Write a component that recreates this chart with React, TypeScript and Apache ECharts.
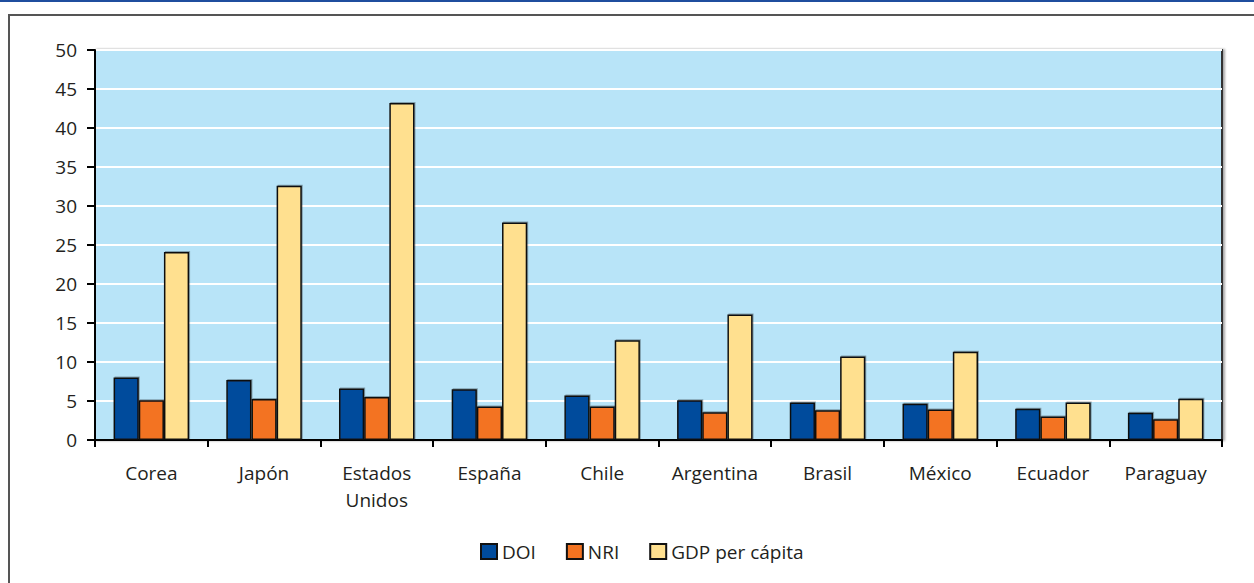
import React, { useEffect, useRef } from "react";
import * as echarts from "echarts";

const categories = ["Corea", "Japón", "Estados\nUnidos", "España", "Chile", "Argentina", "Brasil", "México", "Ecuador", "Paraguay"];
const doi = [8.0, 7.7, 6.6, 6.5, 5.7, 5.1, 4.8, 4.65, 4.0, 3.5];
const nri = [5.1, 5.25, 5.5, 4.3, 4.3, 3.55, 3.8, 3.9, 3.0, 2.65];
const gdp = [24.1, 32.6, 43.2, 27.9, 12.8, 16.1, 10.7, 11.3, 4.8, 5.3];
const seriesNames = ["DOI", "NRI", "GDP per cápita"];
const seriesColors = ["#004b9c", "#f37321", "#ffe08f"];

const FONT = "'Open Sans', 'Noto Sans', sans-serif";

export default function App() {
  const ref = useRef<HTMLDivElement>(null);
  useEffect(() => {
    if (!ref.current) return;
    const chart = echarts.init(ref.current, null, { renderer: "svg" });
    const data = [doi, nri, gdp];
    chart.setOption({
      animation: false,
      backgroundColor: "#ffffff",
      textStyle: { fontFamily: FONT },
      graphic: [
        { type: "rect", shape: { x: 0, y: 0, width: 1254, height: 2 }, style: { fill: "#1f4e9e" }, z: 10 },
        { type: "rect", shape: { x: 9, y: 15, width: 1300, height: 620 }, style: { fill: "none", stroke: "#555555", lineWidth: 2 }, z: -1 },
      ],
      grid: {
        left: 95,
        top: 50,
        right: 32,
        bottom: 143,
        show: true,
        backgroundColor: "#b8e4f8",
        borderColor: "#333333",
        borderWidth: 2,
        shadowColor: "rgba(0,0,0,0.35)",
        shadowOffsetX: 2,
        shadowOffsetY: 0,
        shadowBlur: 2,
      },
      legend: {
        data: seriesNames,
        left: 475,
        top: 537,
        itemWidth: 16,
        itemHeight: 15,
        itemGap: 30,
        icon: "rect",
        textStyle: { fontFamily: FONT, fontSize: 19, color: "#231f20", padding: [0, 0, 0, 0] },
      },
      xAxis: {
        type: "category",
        data: categories,
        axisLine: { show: true, lineStyle: { color: "#000000", width: 2 } },
        axisTick: { show: true, alignWithLabel: false, length: 7, lineStyle: { color: "#000000", width: 2 } },
        axisLabel: { fontFamily: FONT, fontSize: 19, color: "#231f20", margin: 19, lineHeight: 27, interval: 0 },
        splitLine: { show: false },
      },
      yAxis: {
        type: "value",
        min: 0,
        max: 50,
        interval: 5,
        axisLine: { show: true, lineStyle: { color: "#000000", width: 2 } },
        axisTick: { show: true, length: 8, lineStyle: { color: "#000000", width: 2 } },
        axisLabel: { fontFamily: FONT, fontSize: 19, color: "#231f20", margin: 18 },
        splitLine: { show: true, lineStyle: { color: "#ffffff", width: 2 } },
      },
      series: seriesNames.map((name, i) => ({
        name,
        type: "bar",
        data: data[i],
        barGap: "0%",
        barCategoryGap: "33%",
        itemStyle: {
          color: seriesColors[i],
          borderColor: "#111111",
          borderWidth: 1.5,
          shadowColor: "rgba(0,0,0,0.3)",
          shadowOffsetX: 1,
          shadowOffsetY: -1,
          shadowBlur: 1,
        },
      })),
    });
    return () => chart.dispose();
  }, []);
  return (
    <div
      ref={ref}
      style={{ position: "fixed", left: 0, top: 0, width: 1254, height: 583 }}
    />
  );
}
